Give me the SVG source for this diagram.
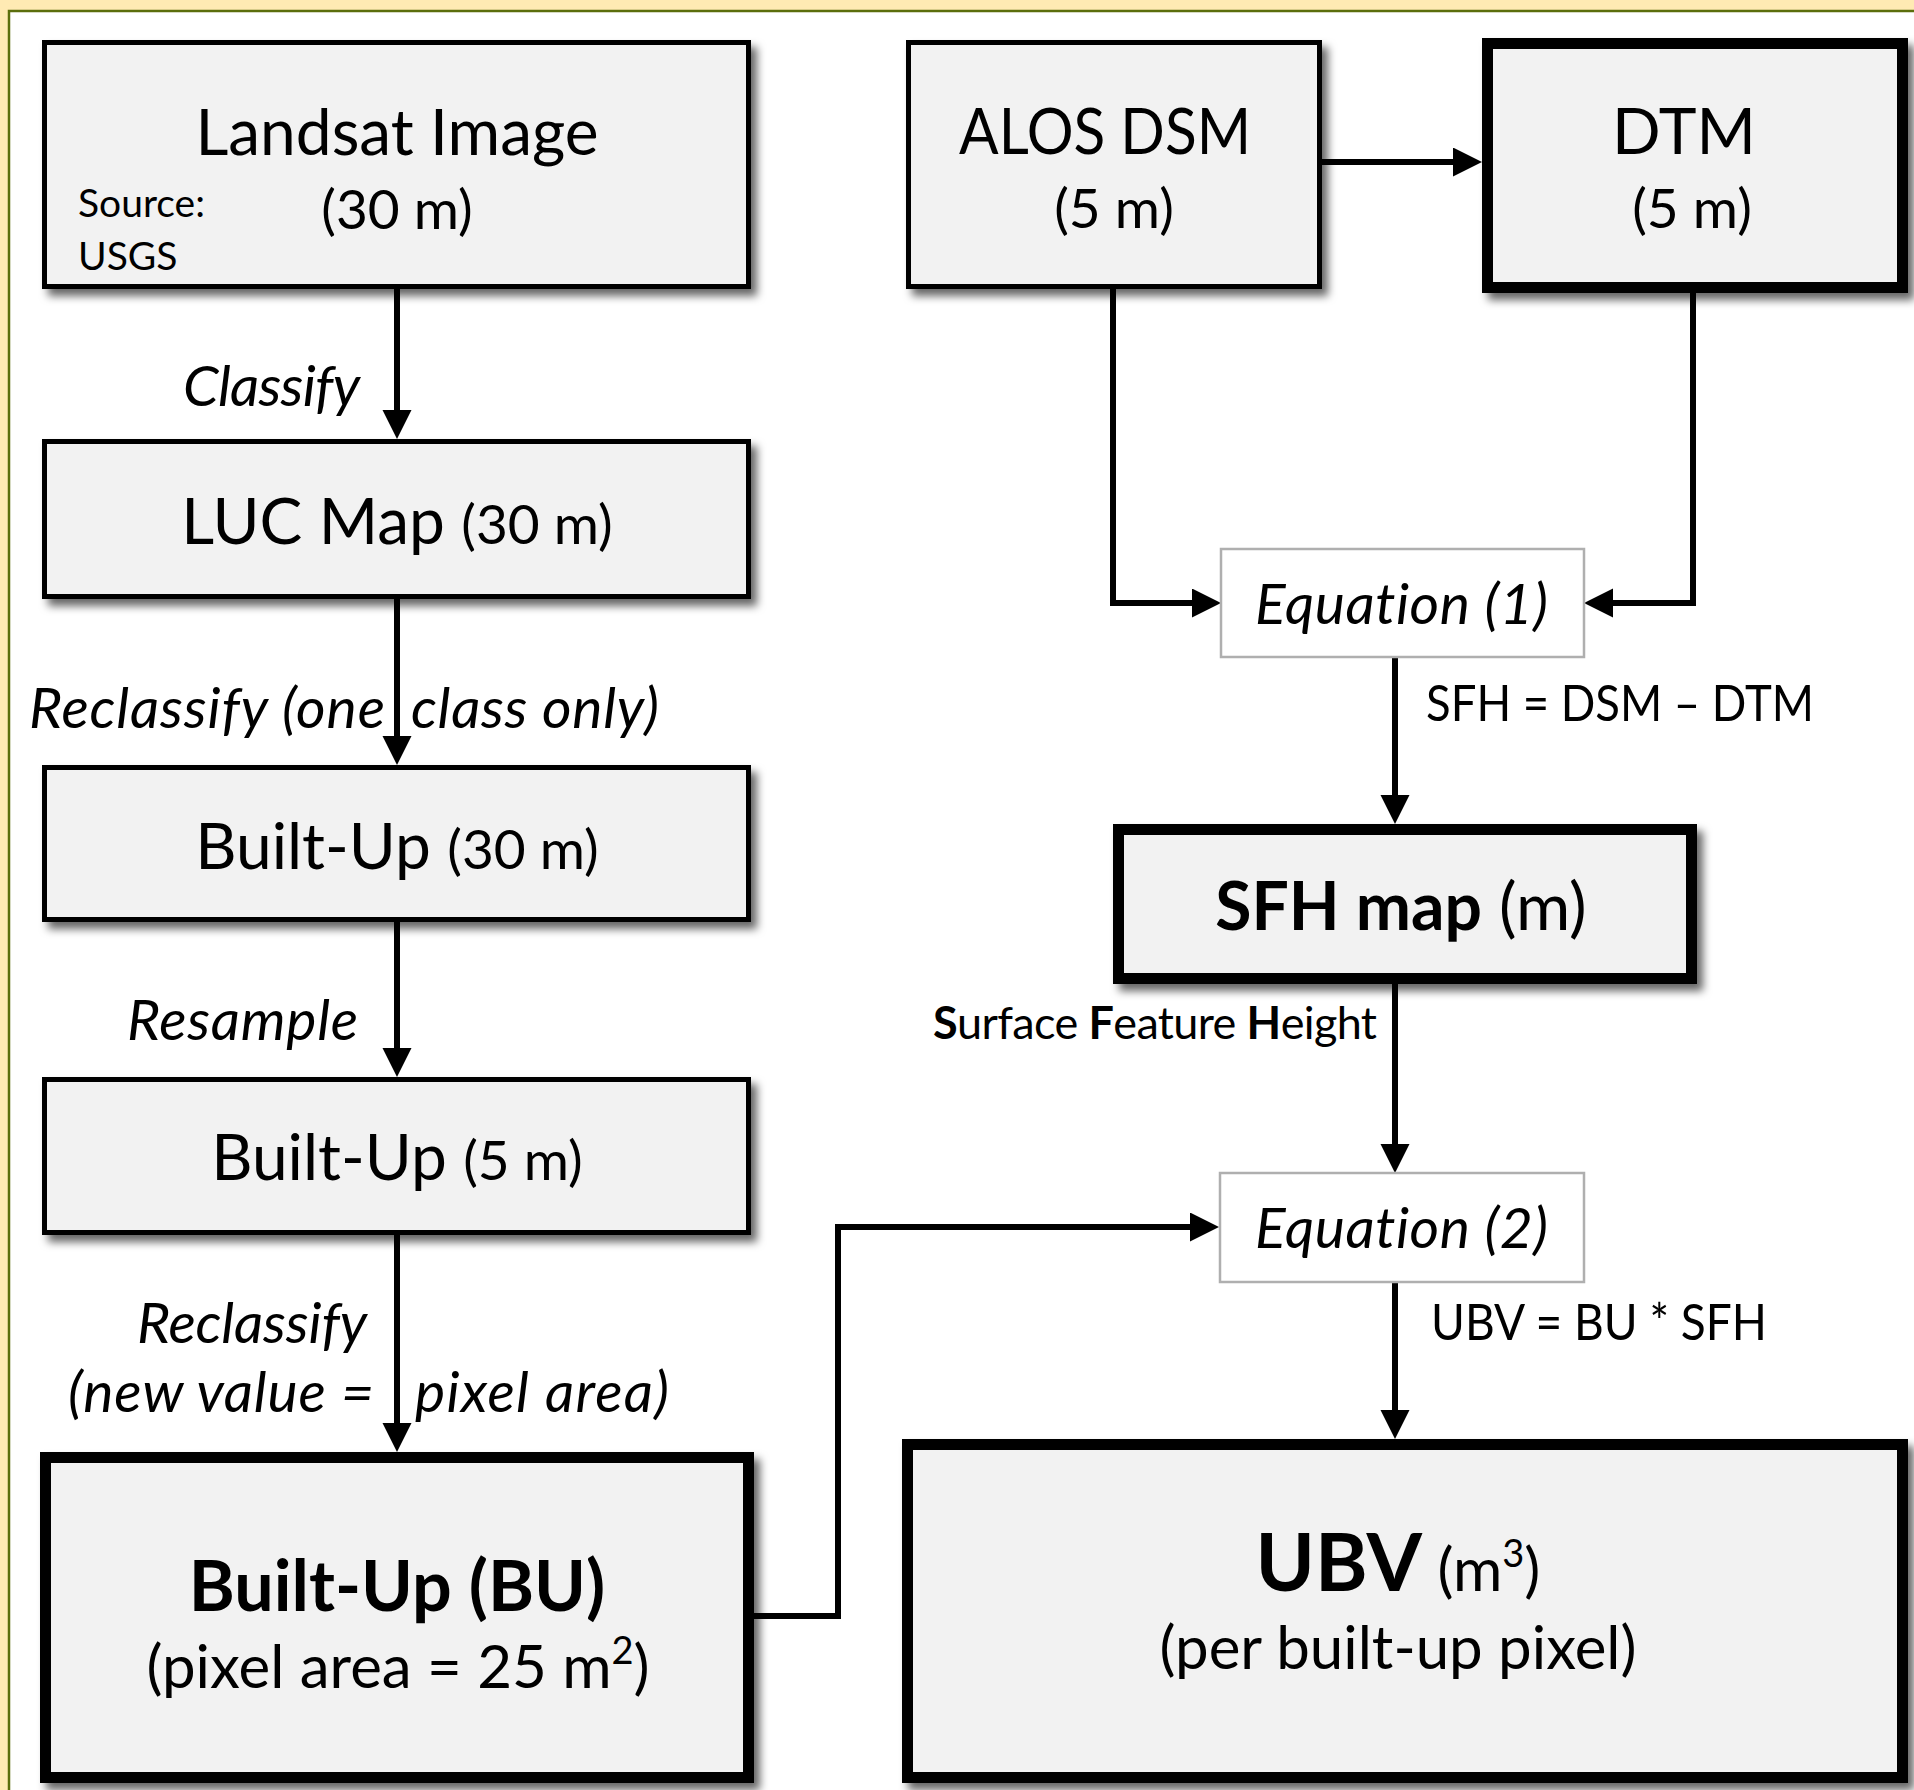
<svg xmlns="http://www.w3.org/2000/svg" width="1914" height="1790" viewBox="0 0 1914 1790">
<defs>
<filter id="sh" x="-10%" y="-10%" width="130%" height="130%">
<feDropShadow dx="6" dy="7" stdDeviation="4" flood-color="#000" flood-opacity="0.6"/>
</filter>
<marker id="ah" markerUnits="userSpaceOnUse" markerWidth="30" markerHeight="30" refX="0" refY="14.5" orient="auto">
<path d="M0,0 L29,14.5 L0,29 Z" fill="#000"/>
</marker>
</defs>
<style>
.box{fill:#F2F2F2;stroke:#000;stroke-width:5;filter:url(#sh)}
.thick{fill:#F2F2F2;stroke:#000;stroke-width:11;filter:url(#sh)}
.eq{fill:#fff;stroke:#AFAFAF;stroke-width:2.5}
.c{fill:none;stroke:#000;stroke-width:6;marker-end:url(#ah)}
text{font-family:Lato,"Liberation Sans",sans-serif;fill:#000;font-variant-ligatures:none}
.m{font-size:64px;text-anchor:middle}
.p{font-size:55px}
.i{font-size:57px;font-style:italic}
.s{font-size:39px}
.e{font-size:51px}
</style>
<rect x="0" y="0" width="1914" height="1790" fill="#FFEAB3"/>
<rect x="9" y="11" width="1930" height="1800" fill="#fff" stroke="#5B6E0C" stroke-width="2.5"/>

<g id="connectors">
<path class="c" d="M397,289 V410"/>
<path class="c" d="M397,599 V736"/>
<path class="c" d="M397,922 V1048"/>
<path class="c" d="M397,1235 V1423"/>
<path class="c" d="M1322,162 H1453"/>
<path class="c" d="M1113,289 V603 H1192"/>
<path class="c" d="M1693,293 V603 H1613"/>
<path class="c" d="M1395,657 V795"/>
<path class="c" d="M1395,984 V1144"/>
<path class="c" d="M754,1616 H838 V1227 H1190"/>
<path class="c" d="M1395,1282 V1410"/>
</g>

<g id="landsat">
<rect class="box" x="44.5" y="42.5" width="704" height="244"/>
<text class="m" x="397" y="155">Landsat Image</text>
<text class="m p" x="397" y="229">(30 m)</text>
<text class="s" x="78" y="217">Source:</text>
<text class="s" x="78" y="270">USGS</text>
</g>
<text id="lbl-classify" class="i" x="183" y="406" textLength="177">Classify</text>

<g id="luc">
<rect class="box" x="44.5" y="441.5" width="704" height="155"/>
<text class="m" x="397" y="544">LUC Map <tspan class="p">(30 m)</tspan></text>
</g>
<text id="lbl-reclass1" class="i" y="728"><tspan x="29" textLength="356">Reclassify (one</tspan> <tspan x="411" textLength="248">class only)</tspan></text>

<g id="bu30">
<rect class="box" x="44.5" y="767.5" width="704" height="152"/>
<text class="m" x="397" y="869">Built-Up <tspan class="p">(30 m)</tspan></text>
</g>
<text id="lbl-resample" class="i" x="127" y="1040" textLength="231">Resample</text>

<g id="bu5">
<rect class="box" x="44.5" y="1079.5" width="704" height="153"/>
<text class="m" x="397" y="1180">Built-Up <tspan class="p">(5 m)</tspan></text>
</g>
<text id="lbl-reclass2a" class="i" x="137" y="1343" textLength="230">Reclassify</text>
<text id="lbl-reclass2b" class="i" y="1412"><tspan x="68" textLength="306">(new value =</tspan> <tspan x="415" textLength="254">pixel area)</tspan></text>

<g id="bu">
<rect class="thick" x="45.5" y="1457.5" width="703" height="320"/>
<text x="397" y="1611" text-anchor="middle" font-size="70" font-weight="bold">Built-Up (BU)</text>
<text x="398" y="1688" text-anchor="middle" font-size="60">(pixel area = 25 m<tspan font-size="38" dy="-24">2</tspan><tspan dy="24">)</tspan></text>
</g>

<g id="alos">
<rect class="box" x="908.5" y="42.5" width="411" height="244"/>
<text class="m" x="1105" y="154" textLength="292" lengthAdjust="spacingAndGlyphs">ALOS DSM</text>
<text class="m p" x="1114" y="228">(5 m)</text>
</g>

<g id="dtm">
<rect class="thick" x="1487.5" y="43.5" width="415" height="244"/>
<text class="m" x="1684" y="154">DTM</text>
<text class="m p" x="1692" y="228">(5 m)</text>
</g>

<g id="eq1">
<rect class="eq" x="1221" y="549" width="363" height="108"/>
<text class="i" x="1255" y="624" textLength="293">Equation (1)</text>
</g>
<text id="lbl-sfh-eq" class="e" x="1426" y="721" textLength="388" lengthAdjust="spacingAndGlyphs">SFH = DSM – DTM</text>

<g id="sfh">
<rect class="thick" x="1118.5" y="829.5" width="573" height="149"/>
<text x="1401" y="930" text-anchor="middle" font-size="66"><tspan font-weight="bold">SFH map</tspan> (m)</text>
</g>
<text id="lbl-sfh-name" x="933" y="1039" font-size="45" textLength="444"><tspan font-weight="bold">S</tspan>urface <tspan font-weight="bold">F</tspan>eature <tspan font-weight="bold">H</tspan>eight</text>

<g id="eq2">
<rect class="eq" x="1220" y="1173" width="364" height="109"/>
<text class="i" x="1255" y="1248" textLength="293">Equation (2)</text>
</g>
<text id="lbl-ubv-eq" class="e" x="1431" y="1340" textLength="336" lengthAdjust="spacingAndGlyphs">UBV = BU * SFH</text>

<g id="ubv">
<rect class="thick" x="907.5" y="1444.5" width="995" height="333"/>
<text x="1398" y="1591" text-anchor="middle" font-size="60"><tspan font-size="80" font-weight="bold">UBV</tspan> (m<tspan font-size="38" dy="-24">3</tspan><tspan dy="24">)</tspan></text>
<text x="1398" y="1669" text-anchor="middle" font-size="60">(per built-up pixel)</text>
</g>
</svg>
